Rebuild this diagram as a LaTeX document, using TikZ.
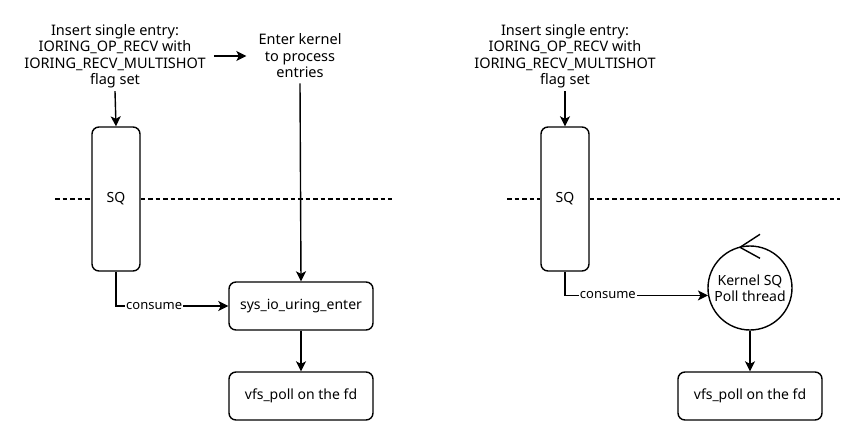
\documentclass[tikz,border=0pt]{standalone}
\usepackage{fontspec}
\setmainfont{Noto Sans}
\usetikzlibrary{positioning, arrows.meta, calc}
\tikzset{
	note/.style={align=center, inner sep=0pt, font=\fontsize{14.5}{16.5}\selectfont}
}
\tikzset{
	box/.style={draw, line width=1.4pt, rounded corners=7pt, minimum width=144pt, minimum height=48pt, font=\fontsize{14}{16}\selectfont},
	sqbox/.style={draw, line width=1.4pt, rounded corners=7pt, minimum width=48pt, minimum height=144pt, fill=white, font=\fontsize{14}{16}\selectfont},
	pollcirc/.style={draw, circle, line width=1.4pt, minimum size=84pt, inner sep=0pt, align=center, font=\fontsize{14}{16.5}\selectfont},
	arr/.style={line width=1.4pt, -{Stealth[length=10pt, width=10pt, inset=2.5pt]}},
	sep/.style={line width=1.1pt, dash pattern=on 4.5pt off 3pt}
}
\newcommand{\insertmsg}{Insert single entry:\\IORING\_OP\_RECV with\\IORING\_RECV\_MULTISHOT\\flag set}

\begin{document}
\begin{tikzpicture}[x=1pt, y=1pt]
      \useasboundingbox (0,0) rectangle (863,-445);
      % left: io_uring_enter
      \node[note] (insL) at (115,-56) {\insertmsg};
      \node[note] (kern) at (300,-56) {Enter kernel\\to process\\entries};
      \node[sqbox] (sqL) at (116,-199) {SQ};
      \node[box] (sys) at (301,-306) {sys\_io\_uring\_enter};
      \node[box] (vfsL) at (301,-396) {vfs\_poll on the fd};
      \draw[sep] (55,-199) -- (sqL.west);
      \draw[sep] (sqL.east) -- (392,-199);
      \draw[arr] ([xshift=8pt]insL.east) -- ([xshift=-12pt]kern.west);
      \draw[arr] ([yshift=-3pt]insL.south) -- (sqL.north);
      \draw[arr] ([yshift=-5pt]kern.south) -- (sys.north);
      \draw[arr] (sqL.south) |- node[pos=0.67, fill=white, inner sep=1pt, font=\fontsize{13}{15}\selectfont] {consume} (sys.west);
      \draw[arr] (sys.south) -- (vfsL.north);
      % right: SQ poll thread
      \node[note] (insR) at (565,-56) {\insertmsg};
      \node[sqbox] (sqR) at (565,-199) {SQ};
      \node[pollcirc] (poll) at (750,-288) {Kernel SQ\\Poll thread};
      \node[box] (vfsR) at (750,-396) {vfs\_poll on the fd};
      \draw[sep] (507,-199) -- (sqR.west);
      \draw[sep] (sqR.east) -- (840,-199);
      \draw[arr] ([yshift=-3pt]insR.south) -- (sqR.north);
      \draw[arr] (sqR.south) |- node[pos=0.65, fill=white, inner sep=1pt, font=\fontsize{13}{15}\selectfont] {consume} (poll.190);
      \draw[arr] (poll.south) -- (vfsR.north);
      \draw[line width=1.4pt] ($(poll.north)+(10,11)$) -- ($(poll.north)+(-10,-2)$) -- ($(poll.north)+(10,-13)$);
    \end{tikzpicture}
\end{document}
